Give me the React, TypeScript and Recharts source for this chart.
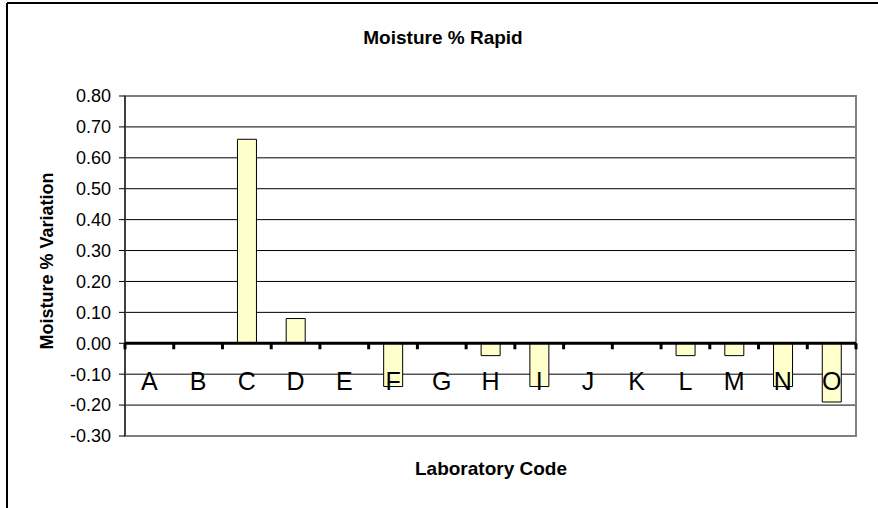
import React from 'react';
import {
  BarChart,
  Bar,
  XAxis,
  YAxis,
  CartesianGrid,
  ReferenceLine,
  ReferenceArea,
} from 'recharts';

// --- chart data ---
const labCodes = ['A', 'B', 'C', 'D', 'E', 'F', 'G', 'H', 'I', 'J', 'K', 'L', 'M', 'N', 'O'];
const moistureVariation: (number | null)[] = [
  null, null, 0.66, 0.08, null, -0.14, null, -0.04, -0.14, null, null, -0.04, -0.04, -0.14, -0.19,
];
const yTicks = [0.8, 0.7, 0.6, 0.5, 0.4, 0.3, 0.2, 0.1, 0, -0.1, -0.2, -0.3];

const data = labCodes.map((lab, i) => ({ lab, value: moistureVariation[i] }));

// --- layout ---
const W = 878;
const H = 508;
const Y_AXIS_W = 125;
const X_AXIS_H = 30;
const MARGIN = { top: 96, right: 22, bottom: 42, left: 0 };
const PLOT_W = W - Y_AXIS_W - MARGIN.right;
const PLOT_H = H - MARGIN.top - MARGIN.bottom - X_AXIS_H;
const Y_MIN = -0.3;
const Y_MAX = 0.8;
const ZERO_Y = MARGIN.top + (PLOT_H * Y_MAX) / (Y_MAX - Y_MIN);
const BAND = PLOT_W / labCodes.length;
const FONT = 'Arial, "Liberation Sans", Helvetica, sans-serif';

// x labels sit on the zero line, with tick marks between categories
const LabTick = (props: any) => {
  const { x, payload, index } = props;
  const last = index === labCodes.length - 1;
  return (
    <g>
      <line x1={x - BAND / 2} y1={ZERO_Y} x2={x - BAND / 2} y2={ZERO_Y + 6} stroke="#000" strokeWidth={3} />
      {last && (
        <line x1={x + BAND / 2} y1={ZERO_Y} x2={x + BAND / 2} y2={ZERO_Y + 6} stroke="#000" strokeWidth={3} />
      )}
      <text x={x} y={ZERO_Y + 47} textAnchor="middle" fontSize={25} fontFamily={FONT} fill="#000">
        {payload.value}
      </text>
    </g>
  );
};

export default function App() {
  return (
    <div style={{ position: 'absolute', left: 0, top: 0, width: W, height: H, background: '#fff' }}>
      <BarChart width={W} height={H} data={data} margin={MARGIN}>
        <CartesianGrid horizontal vertical={false} stroke="#000" strokeWidth={1} />
        <ReferenceArea y1={Y_MIN} y2={Y_MAX} fill="none" stroke="#808080" strokeWidth={2} ifOverflow="visible" />
        <Bar dataKey="value" fill="#FFFFCC" stroke="#000" strokeWidth={1} barSize={19} isAnimationActive={false} />
        <ReferenceLine y={0} stroke="#000" strokeWidth={3} />
        <XAxis
          dataKey="lab"
          height={X_AXIS_H}
          axisLine={false}
          tickLine={false}
          interval={0}
          tick={(p: any) => <LabTick {...p} />}
        />
        <YAxis
          width={Y_AXIS_W}
          domain={[Y_MIN, Y_MAX]}
          ticks={yTicks}
          interval={0}
          tickFormatter={(v: number) => v.toFixed(2)}
          tickSize={6}
          tickMargin={8}
          axisLine={{ stroke: '#000', strokeWidth: 1 }}
          tickLine={{ stroke: '#000' }}
          tick={{ fill: '#000', fontSize: 18, fontFamily: FONT }}
        />
      </BarChart>
      <svg width={W} height={H} style={{ position: 'absolute', left: 0, top: 0, pointerEvents: 'none' }}>
        <line x1={7} y1={3} x2={W} y2={3} stroke="#000" strokeWidth={2} />
        <line x1={7} y1={3} x2={7} y2={H} stroke="#000" strokeWidth={2} />
        <text x={443} y={44} textAnchor="middle" fontSize={19} fontWeight="bold" fontFamily={FONT}>
          Moisture % Rapid
        </text>
        <text x={491} y={475} textAnchor="middle" fontSize={19} fontWeight="bold" fontFamily={FONT}>
          Laboratory Code
        </text>
        <text
          transform="translate(53,261) rotate(-90)"
          textAnchor="middle"
          fontSize={18}
          fontWeight="bold"
          fontFamily={FONT}
        >
          Moisture % Variation
        </text>
      </svg>
    </div>
  );
}
